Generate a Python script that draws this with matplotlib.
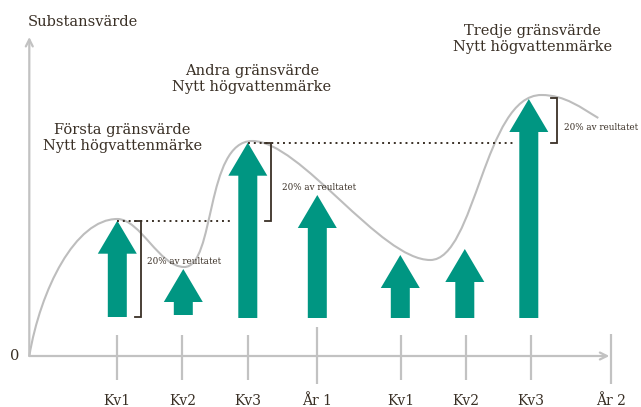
import matplotlib
matplotlib.use("Agg")
import matplotlib.pyplot as plt
from matplotlib.path import Path
from matplotlib.patches import PathPatch, FancyArrow

# ---------------- data (chart units: origin at the axes corner) -------------
tick_labels = ["Kv1", "Kv2", "Kv3", "År 1", "Kv1", "Kv2", "Kv3", "År 2"]
tick_x = [87.7, 153.0, 218.3, 287.7, 372.0, 436.7, 501.7, 581.7]
tick_top = [21, 21, 21, 29, 21, 21, 21, 22]
tick_bottom = [-24, -24, -24, -28, -24, -24, -24, -28]

arrow_x = [88.0, 154.0, 218.5, 288.0, 371.0, 435.5, 499.5]
arrow_base = [39, 41, 38, 38, 38, 38, 38]
arrow_top = [135.3, 87.0, 213.3, 161.0, 101.0, 107.0, 257.0]

# value curve: key points (start, peaks and troughs) with Bezier handles
curve_pts = [(0, 0),
             (11, 66), (46, 137), (88, 137),          # peak 1
             (111, 137), (130, 89), (155, 89),        # trough 1
             (186, 89), (176, 215), (223, 215),       # peak 2
             (271, 215), (351, 96), (401, 96),        # trough 2
             (446, 96), (455, 261), (512, 261),       # peak 3
             (536, 261), (552, 248), (569, 238)]      # tail

# high-water-mark dotted lines: (x_start, x_end, level)
hwm_lines = [(88.0, 203.0, 135.3), (218.5, 484.0, 213.3)]
# brackets: (x, low, high)
brackets = [(111.7, 39, 135.3), (241.7, 135.3, 213.3), (527.7, 213.3, 257.7)]
bracket_labels = ["20% av reultatet"] * 3
bracket_label_pos = [(117.5, 95), (252.5, 168), (534.5, 229)]

headings = [("Första gränsvärde\nNytt högvattenmärke", (93, 218)),
            ("Andra gränsvärde\nNytt högvattenmärke", (222.5, 277)),
            ("Tredje gränsvärde\nNytt högvattenmärke", (503, 317))]

# ---------------- styling ----------------
TEAL = "#009682"
GREY = "#c2c2c2"
CURVE = "#bdbdbd"
DARK = "#3a3026"
FONT = "DejaVu Serif"

fig = plt.figure(figsize=(6.41, 4.07), dpi=100)
ax = fig.add_axes([0, 0, 1, 1])
ax.set_xlim(-29.3, 611.7)
ax.set_ylim(-51, 356)
ax.axis("off")

# axes with open arrowheads
ax.annotate("", xy=(580, 0), xytext=(0, 0),
            arrowprops=dict(arrowstyle="->,head_length=0.5,head_width=0.25",
                            color=GREY, lw=1.6, shrinkA=0, shrinkB=0))
ax.annotate("", xy=(0, 319), xytext=(0, 0),
            arrowprops=dict(arrowstyle="->,head_length=0.5,head_width=0.25",
                            color=GREY, lw=1.6, shrinkA=0, shrinkB=0))
ax.text(-15, 0, "0", ha="center", va="center", fontsize=10.5,
        family=FONT, color=DARK)
ax.text(-2, 334, "Substansvärde", ha="left", va="center", fontsize=10.5,
        family=FONT, color=DARK)

# ticks and labels
for x, t, b, lab in zip(tick_x, tick_top, tick_bottom, tick_labels):
    ax.plot([x, x], [b, t], color=GREY, lw=1.6, solid_capstyle="butt")
    ax.text(x, -45, lab, ha="center", va="center", fontsize=10,
            family=FONT, color=DARK)

# curve
codes = [Path.MOVETO] + [Path.CURVE4] * (len(curve_pts) - 1)
ax.add_patch(PathPatch(Path(curve_pts, codes), fill=False,
                       edgecolor=CURVE, lw=1.5, zorder=2))

# arrows
for x, b, t in zip(arrow_x, arrow_base, arrow_top):
    ax.add_patch(FancyArrow(x, b, 0, t - b, width=19, head_width=39,
                            head_length=33, length_includes_head=True,
                            color=TEAL, lw=0, zorder=3))

# dotted high-water marks
for x0, x1, lvl in hwm_lines:
    ax.plot([x0, x1], [lvl, lvl], color=DARK, lw=1.4,
            linestyle=(0, (1, 2)), zorder=4)

# brackets
for (x, lo, hi) in brackets:
    ax.plot([x - 6, x, x, x - 6], [hi, hi, lo, lo], color=DARK, lw=1.3,
            zorder=4, solid_joinstyle="miter")
for lab, (x, y) in zip(bracket_labels, bracket_label_pos):
    ax.text(x, y, lab, ha="left", va="center", fontsize=6.3,
            family=FONT, color=DARK, zorder=5)

for txt, (x, y) in headings:
    ax.text(x, y, txt, ha="center", va="center", fontsize=10.5,
            family=FONT, color=DARK, linespacing=1.25)

fig.savefig("out.png", dpi=100)
